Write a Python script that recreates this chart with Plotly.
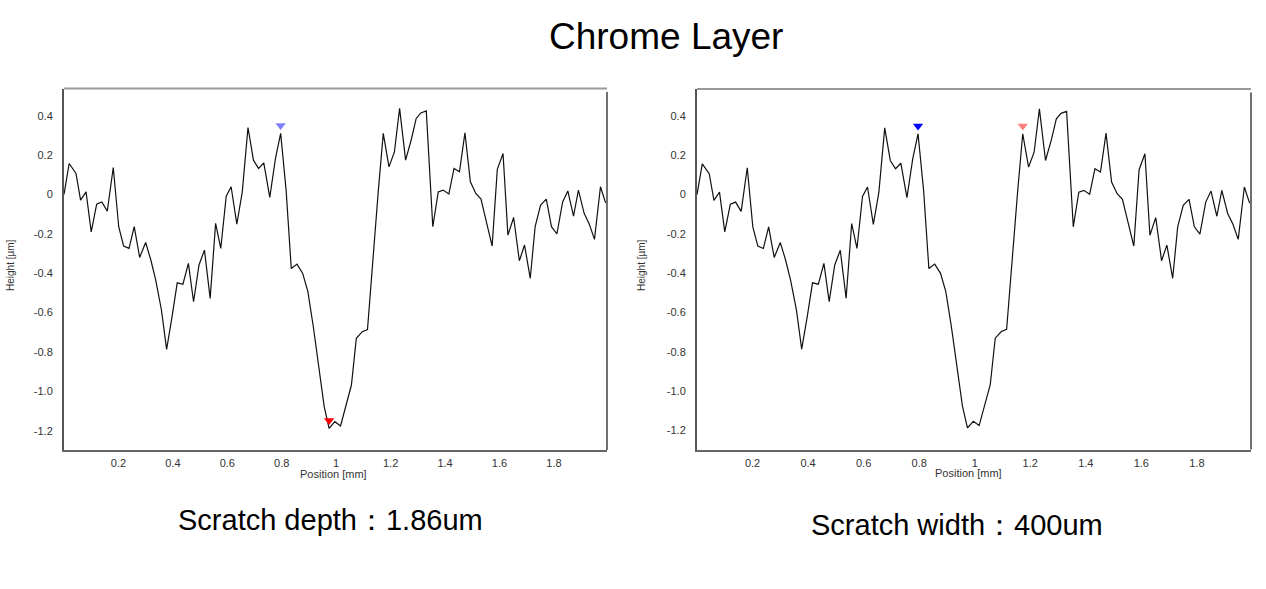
import plotly.graph_objects as go

# Profile data (Position [mm], Height [µm])
positions = [
    0.000, 0.019, 0.044, 0.061, 0.081, 0.100, 0.120, 0.139, 0.159, 0.181,
    0.201, 0.219, 0.239, 0.258, 0.278, 0.300, 0.319, 0.337, 0.358, 0.377,
    0.397, 0.416, 0.437, 0.457, 0.476, 0.496, 0.516, 0.537, 0.557,
    0.576, 0.596, 0.614, 0.635, 0.655, 0.676, 0.696, 0.715, 0.734, 0.756,
    0.777, 0.796, 0.816, 0.835, 0.856, 0.877, 0.896, 0.916, 0.935, 0.956,
    0.974, 0.995, 1.016, 1.036, 1.056, 1.074, 1.096, 1.115, 1.134, 1.155,
    1.173, 1.194, 1.214, 1.233, 1.255, 1.276, 1.294,
    1.311, 1.331, 1.355, 1.375, 1.393, 1.414, 1.433, 1.453, 1.473, 1.493,
    1.513, 1.532, 1.552, 1.573, 1.592, 1.613, 1.631, 1.652, 1.673, 1.692,
    1.713, 1.731, 1.751, 1.772, 1.791, 1.811, 1.832, 1.851, 1.872, 1.890,
    1.911, 1.930, 1.949, 1.971, 1.990,
]
heights = [
    0.000, 0.157, 0.107, -0.029, 0.013, -0.190, -0.049, -0.038, -0.085, 0.137,
    -0.164, -0.262, -0.274, -0.164, -0.320, -0.244, -0.333, -0.435, -0.587, -0.787,
    -0.621, -0.449, -0.456, -0.350, -0.545, -0.358, -0.283, -0.528, -0.147,
    -0.274, -0.009, 0.039, -0.151, 0.013, 0.340, 0.174, 0.132, 0.160, -0.015,
    0.183, 0.310, 0.022, -0.376, -0.354, -0.401, -0.494, -0.672, -0.875, -1.078,
    -1.188, -1.154, -1.176, -1.078, -0.968, -0.731, -0.697, -0.686, -0.333, 0.022,
    0.310, 0.140, 0.216, 0.437, 0.174, 0.279, 0.386,
    0.414, 0.424, -0.164, 0.013, 0.022, 0.002, 0.132, 0.115, 0.313, 0.064,
    0.005, -0.024, -0.139, -0.262, 0.127, 0.208, -0.207, -0.117, -0.337, -0.257,
    -0.426, -0.164, -0.054, -0.024, -0.164, -0.201, -0.038, 0.018, -0.110, 0.022,
    -0.096, -0.151, -0.228, 0.039, -0.043,
]

x_tickvals = [0.2, 0.4, 0.6, 0.8, 1.0, 1.2, 1.4, 1.6, 1.8]
x_ticktext = ["0.2", "0.4", "0.6", "0.8", "1", "1.2", "1.4", "1.6", "1.8"]
y_tickvals = [0.4, 0.2, 0.0, -0.2, -0.4, -0.6, -0.8, -1.0, -1.2]
y_ticktext = ["0.4", "0.2", "0", "-0.2", "-0.4", "-0.6", "-0.8", "-1.0", "-1.2"]

# Cursor marker indices into the profile
left_markers = [(40, "#8080ff"), (49, "#ff0000")]
right_markers = [(40, "#0000ff"), (59, "#ff8080")]

title_text = "Chrome Layer"
left_caption = "Scratch depth：1.86um"
right_caption = "Scratch width：400um"

FONT = "Liberation Sans, Arial, sans-serif"
W, H = 1266, 589
MARK_OFFSET = 0.04

fig = go.Figure()

for xa, ya, markers in [("x", "y", left_markers), ("x2", "y2", right_markers)]:
    fig.add_trace(go.Scatter(
        x=positions, y=heights, mode="lines",
        line=dict(color="#111111", width=1.2),
        xaxis=xa, yaxis=ya, showlegend=False, hoverinfo="skip",
    ))
    for idx, col in markers:
        fig.add_trace(go.Scatter(
            x=[positions[idx]], y=[heights[idx] + MARK_OFFSET], mode="markers",
            marker=dict(symbol="triangle-down", size=9, color=col, line=dict(width=0)),
            xaxis=xa, yaxis=ya, showlegend=False, hoverinfo="skip",
        ))

def px_dom_x(a, b):
    return [a / W, b / W]

def px_dom_y(top, bottom):
    return [1 - bottom / H, 1 - top / H]

xcommon = dict(
    range=[0, 1.995], tickvals=x_tickvals, ticktext=x_ticktext,
    showgrid=False, zeroline=False, showline=True, linecolor="#666666", linewidth=2,
    ticks="", tickfont=dict(family=FONT, size=11, color="#333333"),
    ticklabelstandoff=2,
)
ycommon = dict(
    range=[-1.298, 0.538], tickvals=y_tickvals, ticktext=y_ticktext,
    showgrid=False, zeroline=False, showline=True, linecolor="#555555", linewidth=2,
    ticks="", tickfont=dict(family=FONT, size=11, color="#333333"),
    ticklabelstandoff=7,
)

fig.update_layout(
    width=W, height=H,
    margin=dict(l=0, r=0, t=0, b=0),
    paper_bgcolor="white", plot_bgcolor="white",
    xaxis=dict(domain=px_dom_x(64, 607), anchor="y", **xcommon),
    yaxis=dict(domain=px_dom_y(88.5, 450), anchor="x", **ycommon),
    xaxis2=dict(domain=px_dom_x(697, 1251), anchor="y2", **xcommon),
    yaxis2=dict(domain=px_dom_y(89, 449.5), anchor="x2", **ycommon),
)

shapes = []
for xr, yr in [("x domain", "y domain"), ("x2 domain", "y2 domain")]:
    shapes.append(dict(type="line", xref=xr, yref=yr, x0=0, x1=1, y0=1, y1=1,
                       line=dict(color="#9a9a9a", width=2)))
    shapes.append(dict(type="line", xref=xr, yref=yr, x0=1, x1=1, y0=0, y1=0.99,
                       line=dict(color="#222222", width=1.3)))
fig.update_layout(shapes=shapes)

ann = []
ann.append(dict(text=title_text, x=666 / W, y=1 - 36 / H, xref="paper", yref="paper",
                showarrow=False, xanchor="center", yanchor="middle",
                font=dict(family=FONT, size=37, color="#000000")))
ann.append(dict(text=left_caption, x=330 / W, y=1 - 520 / H, xref="paper", yref="paper",
                showarrow=False, xanchor="center", yanchor="middle",
                font=dict(family=FONT, size=29, color="#000000")))
ann.append(dict(text=right_caption, x=957 / W, y=1 - 525 / H, xref="paper", yref="paper",
                showarrow=False, xanchor="center", yanchor="middle",
                font=dict(family=FONT, size=29, color="#000000")))
for cx, cy in [(333, 474), (968, 473)]:
    ann.append(dict(text="Position [mm]", x=cx / W, y=1 - cy / H, xref="paper", yref="paper",
                    showarrow=False, xanchor="center", yanchor="middle",
                    font=dict(family=FONT, size=11, color="#333333")))
for cx, cy in [(10, 265), (641, 265)]:
    ann.append(dict(text="Height [µm]", x=cx / W, y=1 - cy / H, xref="paper", yref="paper",
                    showarrow=False, xanchor="center", yanchor="middle", textangle=-90,
                    font=dict(family=FONT, size=10, color="#333333")))
fig.update_layout(annotations=ann)

fig.write_html("out.html")
